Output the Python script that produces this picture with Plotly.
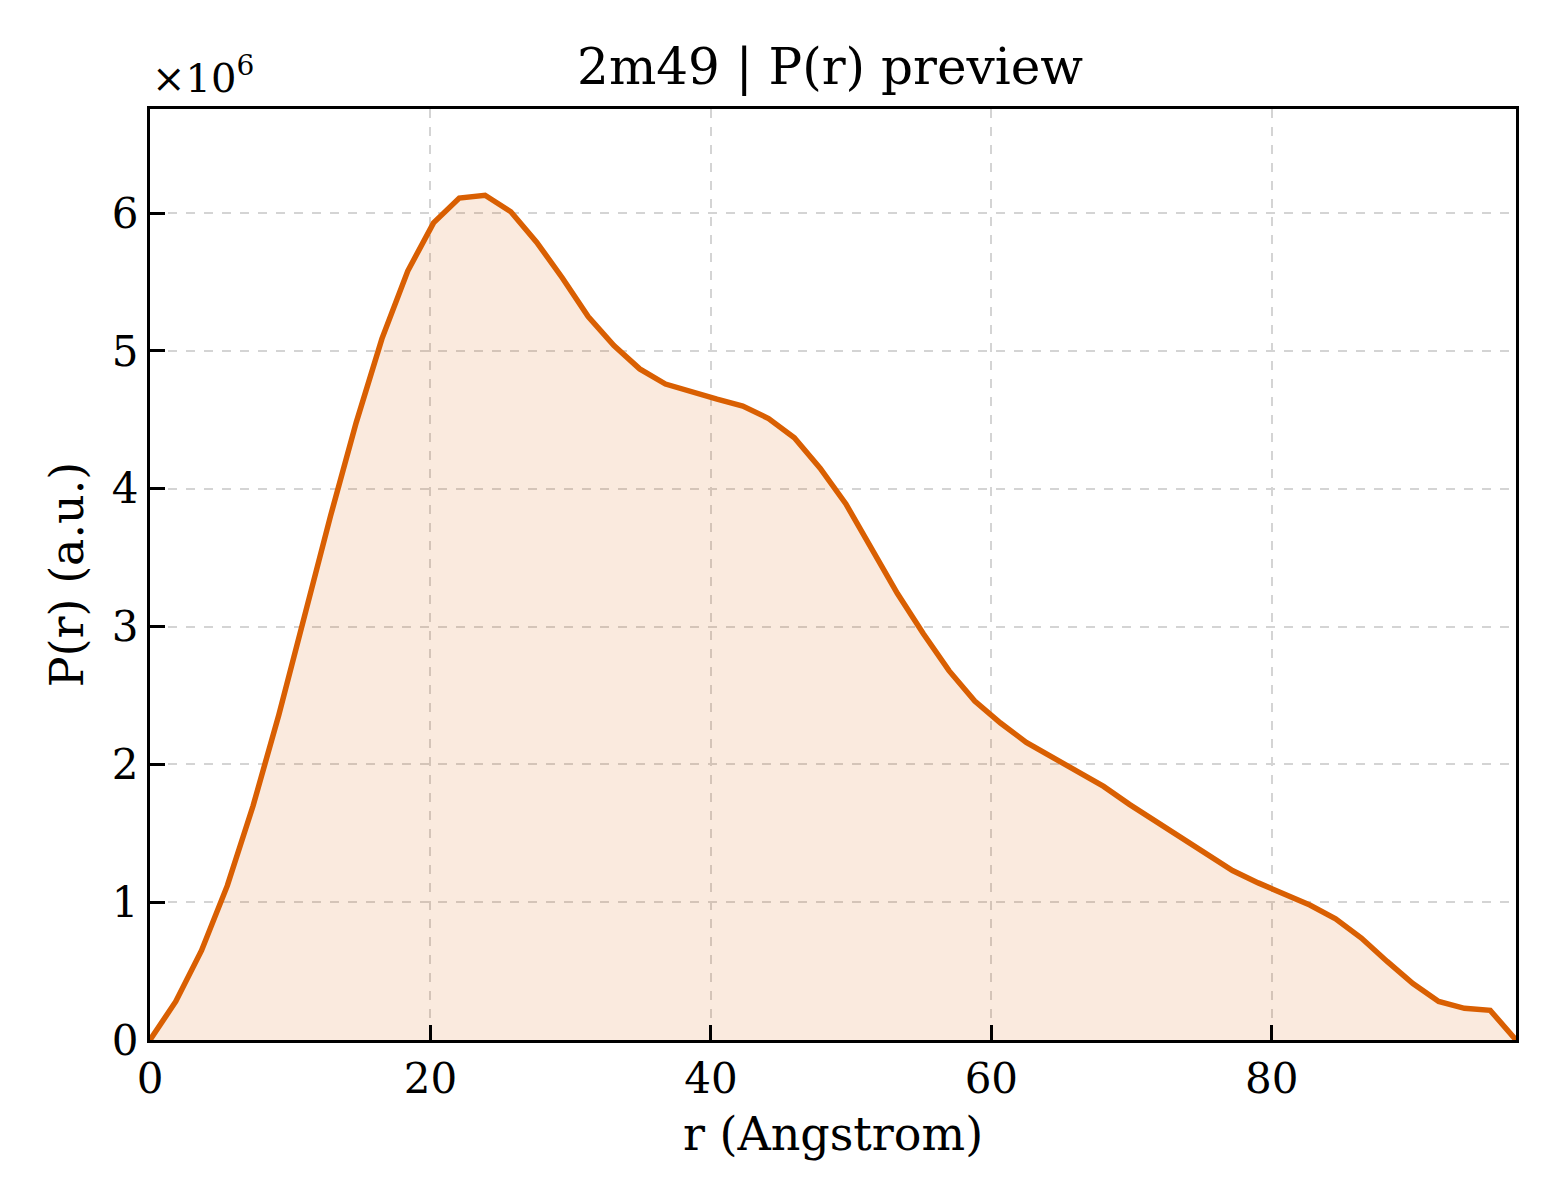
import plotly.graph_objects as go

# pair distance distribution
r_angstrom = [0.0, 1.838, 3.676, 5.514, 7.352, 9.19, 11.028, 12.866, 14.704, 16.542,
              18.38, 20.218, 22.056, 23.894, 25.732, 27.57, 29.408, 31.246, 33.084, 34.922,
              36.76, 38.598, 40.436, 42.274, 44.112, 45.95, 47.788, 49.626, 51.464, 53.302,
              55.14, 56.978, 58.816, 60.654, 62.492, 64.33, 66.168, 68.006, 69.844, 71.682,
              73.52, 75.358, 77.196, 79.034, 80.872, 82.71, 84.548, 86.386, 88.224, 90.062,
              91.9, 93.738, 95.576, 97.414]
pr_millions = [0.0, 0.28, 0.65, 1.12, 1.70, 2.36, 3.08, 3.80, 4.48, 5.09,
               5.58, 5.93, 6.11, 6.13, 6.01, 5.79, 5.53, 5.25, 5.04, 4.87,
               4.76, 4.70, 4.65, 4.60, 4.51, 4.37, 4.15, 3.89, 3.57, 3.24,
               2.95, 2.68, 2.46, 2.30, 2.16, 2.05, 1.95, 1.84, 1.71, 1.59,
               1.46, 1.34, 1.23, 1.14, 1.06, 0.98, 0.88, 0.74, 0.57, 0.41,
               0.28, 0.23, 0.215, 0.0]
pr = [v * 1e6 for v in pr_millions]

x_ticks = [0, 20, 40, 60, 80]
y_ticks = [0, 1e6, 2e6, 3e6, 4e6, 5e6, 6e6]
y_ticktext = ["0", "1", "2", "3", "4", "5", "6"]

FONT = "DejaVu Serif"
ORANGE = "#d95f02"

fig = go.Figure()
fig.add_trace(go.Scatter(
    x=r_angstrom, y=pr, mode="lines",
    line=dict(color=ORANGE, width=5.5),
    fill="tozeroy", fillcolor="rgba(217,95,2,0.13)",
    showlegend=False,
))

axis_common = dict(
    showline=True, linecolor="black", linewidth=3, mirror=True,
    ticks="inside", ticklen=15, tickwidth=3, tickcolor="black",
    showgrid=True, gridcolor="#d4d4d4", gridwidth=1.5, griddash="dash",
    zeroline=False, automargin=False,
    tickfont=dict(family=FONT, size=42, color="black"),
)

fig.update_layout(
    width=1560, height=1200,
    margin=dict(l=142, r=52, t=101, b=168),
    paper_bgcolor="white", plot_bgcolor="white",
    font=dict(family=FONT, color="black"),
    title=dict(text="2m49 | P(r) preview", x=0.527, xanchor="center",
               y=0.951, yanchor="middle", font=dict(family=FONT, size=50)),
    xaxis=dict(axis_common, range=[0, 97.414], tickvals=x_ticks,
               title=dict(text="r (Angstrom)", font=dict(size=46), standoff=16)),
    yaxis=dict(axis_common, range=[0, 6.756e6], tickvals=y_ticks, ticktext=y_ticktext,
               title=dict(text="P(r) (a.u.)", font=dict(size=46), standoff=14)),
    annotations=[dict(text="×10<sup>6</sup>", xref="paper", yref="paper",
                      x=0.0, y=1.0, xanchor="left", yanchor="bottom", yshift=6,
                      showarrow=False, font=dict(family=FONT, size=40))],
)

fig.write_html("out.html")
